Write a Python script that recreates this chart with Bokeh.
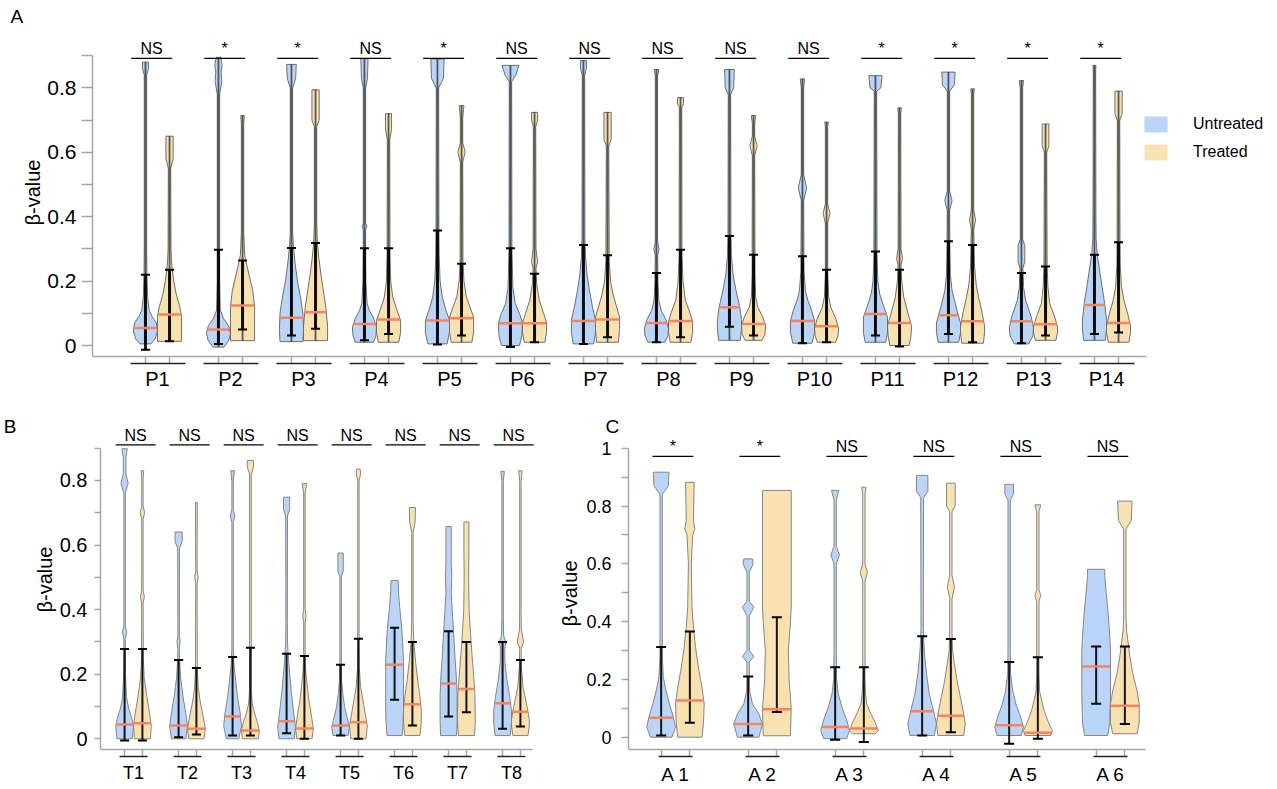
import numpy as np
from bokeh.plotting import figure
from bokeh.models import Range1d, LinearAxis, FixedTicker, Legend, LegendItem, Title
from bokeh.layouts import column, row
from bokeh.embed import file_html
from bokeh.resources import INLINE
from bokeh.core.properties import value

FONT = "Liberation Sans"
BLUE = "#bad5f7"
TAN = "#f8e2b2"
MEDIAN = "#f7845c"
AXIS = "#a8a8a8"

# ------------------------------------------------------------------ data
# Panel A
A_groups = ["P1", "P2", "P3", "P4", "P5", "P6", "P7", "P8", "P9", "P10", "P11", "P12", "P13", "P14"]
A_sig = ["NS", "*", "*", "NS", "*", "NS", "NS", "NS", "NS", "NS", "*", "*", "*", "*"]
A_u_med = [0.054, 0.05, 0.086, 0.067, 0.078, 0.069, 0.076, 0.07, 0.119, 0.076, 0.098, 0.094, 0.075, 0.126]
A_t_med = [0.096, 0.124, 0.103, 0.081, 0.085, 0.069, 0.081, 0.076, 0.067, 0.06, 0.07, 0.075, 0.066, 0.07]
A_u_lo = [-0.013, 0.005, 0.031, 0.016, 0.003, -0.005, 0.005, 0.01, 0.058, 0.007, 0.031, 0.036, 0.007, 0.036]
A_u_hi = [0.22, 0.297, 0.303, 0.302, 0.357, 0.302, 0.312, 0.225, 0.34, 0.277, 0.292, 0.324, 0.225, 0.282]
A_t_lo = [0.013, 0.05, 0.052, 0.036, 0.031, 0.01, 0.026, 0.026, 0.031, 0.01, -0.003, 0.01, 0.031, 0.04]
A_t_hi = [0.235, 0.264, 0.318, 0.302, 0.254, 0.223, 0.28, 0.297, 0.282, 0.235, 0.235, 0.312, 0.245, 0.321]
# violin outlines: (beta-value, relative half width)
A_u_shape = [
    [(0.005, 0.45), (0.02, 0.8), (0.045, 1.0), (0.07, 0.9), (0.09, 0.55), (0.11, 0.3), (0.15, 0.18), (0.22, 0.12), (0.3, 0.1), (0.84, 0.1), (0.86, 0.25), (0.88, 0.25)],
    [(-0.005, 0.45), (0.015, 0.85), (0.037, 1.0), (0.06, 0.85), (0.085, 0.4), (0.11, 0.15), (0.2, 0.1), (0.78, 0.1), (0.82, 0.28), (0.85, 0.22), (0.87, 0.3), (0.895, 0.2)],
    [(0.012, 0.95), (0.05, 1.0), (0.1, 0.95), (0.15, 0.75), (0.2, 0.5), (0.25, 0.32), (0.3, 0.18), (0.35, 0.1), (0.8, 0.1), (0.83, 0.35), (0.873, 0.4)],
    [(0.01, 0.75), (0.03, 0.95), (0.057, 1.0), (0.085, 0.75), (0.11, 0.4), (0.13, 0.22), (0.2, 0.12), (0.3, 0.1), (0.36, 0.1), (0.37, 0.2), (0.38, 0.1), (0.8, 0.1), (0.83, 0.25), (0.891, 0.3)],
    [(0.005, 0.8), (0.04, 1.0), (0.078, 1.0), (0.11, 0.7), (0.15, 0.4), (0.2, 0.22), (0.28, 0.14), (0.36, 0.12), (0.8, 0.1), (0.83, 0.5), (0.89, 0.55)],
    [(0.0, 0.75), (0.03, 0.95), (0.07, 1.0), (0.1, 0.75), (0.13, 0.4), (0.18, 0.2), (0.3, 0.12), (0.82, 0.1), (0.84, 0.45), (0.87, 0.7)],
    [(0.005, 0.85), (0.04, 1.0), (0.078, 1.0), (0.12, 0.75), (0.17, 0.5), (0.22, 0.3), (0.27, 0.18), (0.33, 0.12), (0.84, 0.1), (0.86, 0.25), (0.885, 0.25)],
    [(0.01, 0.7), (0.03, 0.95), (0.052, 1.0), (0.08, 0.8), (0.108, 0.4), (0.14, 0.2), (0.2, 0.12), (0.28, 0.1), (0.3, 0.22), (0.32, 0.1), (0.84, 0.1), (0.857, 0.2)],
    [(0.016, 0.9), (0.05, 1.0), (0.08, 1.0), (0.12, 0.85), (0.17, 0.55), (0.22, 0.3), (0.28, 0.16), (0.35, 0.12), (0.78, 0.1), (0.8, 0.35), (0.857, 0.4)],
    [(0.007, 0.8), (0.04, 1.0), (0.076, 1.0), (0.11, 0.75), (0.14, 0.45), (0.17, 0.25), (0.23, 0.13), (0.45, 0.1), (0.49, 0.35), (0.53, 0.1), (0.8, 0.1), (0.828, 0.18)],
    [(0.01, 0.85), (0.04, 1.0), (0.088, 1.0), (0.12, 0.7), (0.16, 0.35), (0.2, 0.2), (0.28, 0.13), (0.79, 0.1), (0.8, 0.45), (0.838, 0.55)],
    [(0.01, 0.85), (0.04, 1.0), (0.07, 1.0), (0.11, 0.7), (0.17, 0.3), (0.22, 0.16), (0.3, 0.12), (0.42, 0.1), (0.45, 0.3), (0.48, 0.1), (0.79, 0.1), (0.81, 0.5), (0.849, 0.55)],
    [(0.005, 0.6), (0.03, 0.95), (0.057, 1.0), (0.09, 0.8), (0.14, 0.35), (0.18, 0.18), (0.24, 0.12), (0.26, 0.28), (0.31, 0.28), (0.33, 0.1), (0.8, 0.1), (0.823, 0.18)],
    [(0.016, 0.9), (0.05, 1.0), (0.078, 1.0), (0.13, 0.85), (0.19, 0.6), (0.24, 0.4), (0.285, 0.22), (0.33, 0.14), (0.4, 0.12), (0.85, 0.1), (0.87, 0.12)],
]
A_t_shape = [
    [(0.013, 1.0), (0.09, 1.0), (0.12, 0.85), (0.16, 0.55), (0.2, 0.35), (0.25, 0.18), (0.3, 0.12), (0.55, 0.1), (0.58, 0.3), (0.65, 0.3)],
    [(0.015, 1.0), (0.12, 1.0), (0.17, 0.85), (0.21, 0.6), (0.25, 0.35), (0.28, 0.18), (0.35, 0.1), (0.69, 0.1), (0.714, 0.15)],
    [(0.015, 1.0), (0.06, 1.0), (0.12, 0.85), (0.17, 0.65), (0.22, 0.45), (0.27, 0.28), (0.32, 0.15), (0.38, 0.1), (0.68, 0.1), (0.7, 0.3), (0.794, 0.3)],
    [(0.01, 0.85), (0.04, 1.0), (0.078, 1.0), (0.11, 0.7), (0.15, 0.35), (0.2, 0.18), (0.28, 0.12), (0.64, 0.1), (0.67, 0.25), (0.72, 0.25)],
    [(0.01, 0.85), (0.04, 1.0), (0.088, 1.0), (0.12, 0.7), (0.15, 0.4), (0.2, 0.2), (0.26, 0.12), (0.57, 0.1), (0.6, 0.3), (0.63, 0.1), (0.71, 0.1), (0.745, 0.2)],
    [(0.01, 0.85), (0.04, 1.0), (0.07, 1.0), (0.1, 0.75), (0.14, 0.4), (0.19, 0.18), (0.24, 0.12), (0.26, 0.25), (0.3, 0.12), (0.68, 0.1), (0.7, 0.25), (0.724, 0.25)],
    [(0.01, 0.9), (0.05, 1.0), (0.088, 1.0), (0.12, 0.75), (0.16, 0.45), (0.2, 0.25), (0.26, 0.14), (0.62, 0.1), (0.64, 0.3), (0.724, 0.3)],
    [(0.01, 0.85), (0.04, 1.0), (0.075, 1.0), (0.11, 0.7), (0.14, 0.4), (0.2, 0.2), (0.28, 0.12), (0.74, 0.1), (0.75, 0.25), (0.77, 0.25)],
    [(0.016, 0.7), (0.035, 0.95), (0.062, 1.0), (0.09, 0.75), (0.119, 0.35), (0.15, 0.18), (0.22, 0.12), (0.59, 0.1), (0.62, 0.3), (0.65, 0.1), (0.69, 0.1), (0.714, 0.18)],
    [(0.01, 0.75), (0.03, 0.95), (0.052, 1.0), (0.08, 0.8), (0.119, 0.35), (0.15, 0.18), (0.22, 0.1), (0.38, 0.1), (0.41, 0.28), (0.44, 0.1), (0.68, 0.1), (0.694, 0.15)],
    [(0.0, 0.8), (0.03, 0.95), (0.06, 1.0), (0.1, 0.7), (0.15, 0.35), (0.2, 0.18), (0.25, 0.12), (0.27, 0.25), (0.3, 0.12), (0.72, 0.1), (0.738, 0.15)],
    [(0.007, 0.9), (0.04, 1.0), (0.06, 1.0), (0.1, 0.8), (0.15, 0.5), (0.19, 0.3), (0.25, 0.16), (0.33, 0.12), (0.36, 0.1), (0.39, 0.25), (0.42, 0.1), (0.78, 0.1), (0.797, 0.15)],
    [(0.016, 0.85), (0.04, 1.0), (0.057, 1.0), (0.09, 0.75), (0.13, 0.35), (0.18, 0.2), (0.25, 0.13), (0.6, 0.1), (0.62, 0.28), (0.688, 0.28)],
    [(0.01, 0.85), (0.04, 1.0), (0.06, 1.0), (0.1, 0.75), (0.14, 0.45), (0.18, 0.25), (0.25, 0.14), (0.32, 0.12), (0.7, 0.1), (0.72, 0.3), (0.79, 0.3)],
]

# Panel B
B_groups = ["T1", "T2", "T3", "T4", "T5", "T6", "T7", "T8"]
B_sig = ["NS"] * 8
B_u_med = [0.044, 0.041, 0.069, 0.054, 0.041, 0.229, 0.171, 0.11]
B_t_med = [0.048, 0.031, 0.026, 0.032, 0.051, 0.107, 0.154, 0.084]
B_u_lo = [-0.005, 0.005, 0.01, 0.017, 0.01, 0.121, 0.069, 0.031]
B_u_hi = [0.278, 0.244, 0.253, 0.263, 0.229, 0.344, 0.333, 0.3]
B_t_lo = [-0.005, 0.013, 0.01, 0.0, 0.0, 0.041, 0.082, 0.038]
B_t_hi = [0.278, 0.219, 0.282, 0.256, 0.31, 0.3, 0.3, 0.244]
B_u_shape = [
    [(0.0, 0.85), (0.036, 1.0), (0.06, 0.85), (0.09, 0.5), (0.128, 0.22), (0.2, 0.1), (0.31, 0.08), (0.33, 0.25), (0.35, 0.08), (0.76, 0.08), (0.79, 0.4), (0.82, 0.15), (0.87, 0.15), (0.898, 0.3)],
    [(0.0, 0.8), (0.041, 1.0), (0.08, 0.8), (0.13, 0.5), (0.19, 0.22), (0.25, 0.1), (0.28, 0.08), (0.3, 0.18), (0.32, 0.08), (0.59, 0.1), (0.61, 0.4), (0.64, 0.4)],
    [(0.0, 0.7), (0.04, 1.0), (0.08, 0.85), (0.13, 0.55), (0.18, 0.35), (0.23, 0.15), (0.28, 0.08), (0.67, 0.08), (0.69, 0.25), (0.71, 0.08), (0.8, 0.08), (0.83, 0.2)],
    [(0.0, 0.85), (0.036, 1.0), (0.08, 0.8), (0.14, 0.55), (0.2, 0.35), (0.26, 0.18), (0.3, 0.1), (0.36, 0.08), (0.69, 0.1), (0.71, 0.35), (0.748, 0.35)],
    [(0.01, 0.85), (0.036, 1.0), (0.07, 0.7), (0.1, 0.45), (0.14, 0.25), (0.18, 0.12), (0.24, 0.08), (0.5, 0.08), (0.52, 0.3), (0.575, 0.3)],
    [(0.01, 0.85), (0.05, 0.95), (0.09, 1.0), (0.24, 1.0), (0.3, 0.9), (0.345, 0.8), (0.4, 0.6), (0.45, 0.45), (0.49, 0.4)],
    [(0.01, 0.9), (0.05, 0.95), (0.14, 0.95), (0.2, 0.85), (0.26, 0.7), (0.335, 0.55), (0.4, 0.4), (0.45, 0.3), (0.5, 0.35), (0.55, 0.3), (0.657, 0.3)],
    [(0.01, 0.85), (0.05, 1.0), (0.087, 1.0), (0.13, 0.8), (0.18, 0.5), (0.24, 0.25), (0.28, 0.25), (0.3, 0.35), (0.32, 0.12), (0.38, 0.08), (0.8, 0.08), (0.828, 0.2)],
]
B_t_shape = [
    [(0.0, 0.9), (0.04, 1.0), (0.08, 0.8), (0.13, 0.5), (0.19, 0.2), (0.25, 0.1), (0.42, 0.08), (0.44, 0.22), (0.46, 0.08), (0.68, 0.08), (0.7, 0.25), (0.72, 0.08), (0.81, 0.08), (0.83, 0.15)],
    [(0.0, 0.85), (0.031, 1.0), (0.07, 0.75), (0.12, 0.4), (0.16, 0.2), (0.22, 0.1), (0.48, 0.08), (0.5, 0.2), (0.52, 0.08), (0.732, 0.1)],
    [(0.0, 0.9), (0.026, 1.0), (0.05, 0.8), (0.08, 0.45), (0.108, 0.2), (0.15, 0.1), (0.82, 0.1), (0.84, 0.35), (0.862, 0.35)],
    [(0.0, 0.85), (0.03, 1.0), (0.07, 0.8), (0.12, 0.5), (0.17, 0.3), (0.21, 0.15), (0.26, 0.08), (0.36, 0.08), (0.38, 0.18), (0.4, 0.08), (0.76, 0.08), (0.79, 0.25)],
    [(0.0, 0.85), (0.04, 1.0), (0.08, 0.75), (0.12, 0.5), (0.16, 0.25), (0.22, 0.1), (0.3, 0.08), (0.8, 0.08), (0.82, 0.25), (0.835, 0.2)],
    [(0.01, 0.85), (0.05, 1.0), (0.087, 1.0), (0.13, 0.85), (0.18, 0.6), (0.24, 0.35), (0.3, 0.15), (0.36, 0.08), (0.64, 0.08), (0.67, 0.3), (0.716, 0.35)],
    [(0.01, 0.9), (0.05, 1.0), (0.14, 0.95), (0.2, 0.8), (0.27, 0.6), (0.33, 0.45), (0.4, 0.3), (0.5, 0.25), (0.58, 0.28), (0.671, 0.28)],
    [(0.01, 0.85), (0.04, 1.0), (0.06, 1.0), (0.1, 0.75), (0.16, 0.3), (0.22, 0.12), (0.28, 0.08), (0.3, 0.35), (0.34, 0.1), (0.4, 0.08), (0.8, 0.08), (0.83, 0.2)],
]

# Panel C
C_groups = ["A 1", "A 2", "A 3", "A 4", "A 5", "A 6"]
C_sig = ["*", "*", "NS", "NS", "NS", "NS"]
C_u_med = [0.067, 0.046, 0.035, 0.09, 0.041, 0.245]
C_t_med = [0.127, 0.097, 0.03, 0.074, 0.015, 0.109]
C_u_lo = [0.006, 0.006, -0.009, 0.006, -0.023, 0.116]
C_u_hi = [0.312, 0.21, 0.242, 0.349, 0.26, 0.314]
C_t_lo = [0.05, 0.087, -0.017, 0.017, -0.005, 0.046]
C_t_hi = [0.366, 0.415, 0.242, 0.34, 0.277, 0.314]
C_u_shape = [
    [(0.0, 0.75), (0.035, 1.0), (0.07, 0.85), (0.12, 0.55), (0.17, 0.3), (0.21, 0.15), (0.28, 0.08), (0.84, 0.08), (0.87, 0.5), (0.917, 0.55)],
    [(0.0, 0.75), (0.046, 1.0), (0.08, 0.75), (0.115, 0.3), (0.16, 0.1), (0.26, 0.08), (0.28, 0.4), (0.3, 0.08), (0.42, 0.08), (0.45, 0.4), (0.47, 0.08), (0.57, 0.08), (0.6, 0.35), (0.617, 0.3)],
    [(-0.005, 0.8), (0.023, 1.0), (0.06, 0.8), (0.1, 0.5), (0.15, 0.22), (0.2, 0.1), (0.3, 0.08), (0.6, 0.08), (0.63, 0.3), (0.66, 0.08), (0.82, 0.08), (0.854, 0.25)],
    [(0.006, 0.85), (0.046, 1.0), (0.09, 0.8), (0.15, 0.5), (0.22, 0.3), (0.28, 0.18), (0.323, 0.12), (0.38, 0.08), (0.83, 0.1), (0.85, 0.4), (0.906, 0.4)],
    [(0.006, 0.85), (0.035, 1.0), (0.07, 0.8), (0.11, 0.5), (0.161, 0.25), (0.22, 0.1), (0.3, 0.08), (0.82, 0.08), (0.84, 0.3), (0.875, 0.3)],
    [(0.006, 0.8), (0.05, 0.95), (0.15, 1.0), (0.3, 1.0), (0.35, 0.95), (0.42, 0.85), (0.5, 0.7), (0.56, 0.6), (0.581, 0.6)],
]
C_t_shape = [
    [(0.0, 0.85), (0.05, 0.95), (0.115, 1.0), (0.17, 0.85), (0.24, 0.6), (0.31, 0.4), (0.38, 0.25), (0.45, 0.15), (0.6, 0.1), (0.7, 0.2), (0.72, 0.35), (0.75, 0.25), (0.882, 0.3)],
    [(0.005, 0.95), (0.1, 1.0), (0.2, 0.85), (0.3, 0.8), (0.4, 0.95), (0.45, 1.0), (0.854, 1.0)],
    [(0.012, 0.8), (0.023, 1.0), (0.05, 0.8), (0.08, 0.5), (0.115, 0.2), (0.15, 0.12), (0.2, 0.08), (0.54, 0.08), (0.57, 0.25), (0.6, 0.08), (0.84, 0.08), (0.865, 0.15)],
    [(0.006, 0.9), (0.046, 1.0), (0.08, 0.9), (0.13, 0.7), (0.19, 0.45), (0.254, 0.25), (0.3, 0.12), (0.36, 0.08), (0.48, 0.08), (0.52, 0.25), (0.56, 0.08), (0.78, 0.08), (0.8, 0.3), (0.879, 0.3)],
    [(0.006, 0.9), (0.023, 1.0), (0.05, 0.75), (0.09, 0.45), (0.13, 0.25), (0.16, 0.12), (0.22, 0.08), (0.47, 0.08), (0.49, 0.2), (0.51, 0.08), (0.78, 0.08), (0.804, 0.2)],
    [(0.012, 0.85), (0.05, 1.0), (0.115, 1.0), (0.16, 0.85), (0.22, 0.55), (0.28, 0.35), (0.33, 0.22), (0.37, 0.12), (0.42, 0.08), (0.72, 0.08), (0.75, 0.45), (0.817, 0.5)],
]

HW = 0.165    # max half width of a violin (x units)
OFF = 0.165   # offset of each violin from the group centre


def make_panel(groups, sig, u_shape, t_shape, u_med, t_med, u_lo, u_hi, t_lo, t_hi, g):
    n = len(groups)
    pxu = g["pxu"]
    fw = g["width"] - g["left"]
    x0 = 1 - g["c0"] / pxu
    x1 = x0 + fw / pxu
    xaxis_end = x0 + g["axis_len"] / pxu
    ft = g["top"]
    fb = g["height"] - g["bottom"]
    y1 = (g["zero"] - ft) / g["ppu"]
    y0 = (g["zero"] - fb) / g["ppu"]

    p = figure(width=g["width"], height=g["height"], x_range=Range1d(x0, x1), y_range=Range1d(y0, y1),
               x_axis_type=None, y_axis_type=None, toolbar_location=None, output_backend="svg",
               min_border_left=g["left"], min_border_right=0, min_border_top=ft,
               min_border_bottom=g["bottom"])
    p.outline_line_color = None
    p.background_fill_color = "white"

    sets = [(u_shape, u_med, u_lo, u_hi, -1, BLUE), (t_shape, t_med, t_lo, t_hi, 1, TAN)]

    # violin bodies: fill and outline
    xs, ys, fills = [], [], []
    for shapes, med, lo, hi, sgn, col in sets:
        for i, sh in enumerate(shapes):
            c = i + 1 + sgn * OFF
            yy = np.array([k[0] for k in sh])
            ww = np.array([k[1] for k in sh]) * HW
            xs.append(list(c - ww) + list((c + ww)[::-1]))
            ys.append(list(yy) + list(yy[::-1]))
            fills.append(col)
    fill_r = p.patches(xs, ys, fill_color=fills, line_color=None)
    p.multi_line([x + [x[0]] for x in xs], [y + [y[0]] for y in ys],
                 line_color=g["outline"], line_width=1)

    for shapes, med, lo, hi, sgn, col in sets:
        cx = [i + 1 + sgn * OFF for i in range(n)]
        if g.get("stem"):
            bots = [sh[0][0] for sh in shapes]
            tops = [sh[-1][0] for sh in shapes]
            p.segment(cx, bots, cx, tops, line_color="#2a2a2a", line_width=1.8, line_alpha=0.75)
        p.segment(cx, lo, cx, hi, line_color="black", line_width=g["wlw"], line_alpha=0.9)
        p.scatter(cx + cx, list(lo) + list(hi), marker="dash", size=g["cap"],
                  line_color="black", line_width=2)
        mw = [float(np.interp(m, [k[0] for k in sh], [k[1] for k in sh])) * HW
              for m, sh in zip(med, shapes)]
        p.segment([c - w for c, w in zip(cx, mw)], med, [c + w for c, w in zip(cx, mw)], med,
                  line_color=MEDIAN, line_width=2.5)

    # significance bars
    centers = list(range(1, n + 1))
    sc = [c + g["sig_off"] for c in centers]
    sy = [g["sig_y"]] * n
    p.segment([c - g["sig_len"] / 2 for c in sc], sy, [c + g["sig_len"] / 2 for c in sc], sy,
              line_color="black", line_width=1.3)
    p.text(sc, sy, text=sig, text_align="center", text_baseline="bottom", y_offset=-1,
           text_font=value(FONT), text_font_size=g["sig_fs"], text_color="black")

    # y axis
    yax = LinearAxis(ticker=FixedTicker(ticks=g["yt"], minor_ticks=g["ym"]), bounds=(y0, g["ytop"]),
                     major_label_overrides=g["yover"], axis_label="β-value",
                     axis_label_text_font=FONT, axis_label_text_font_style="normal",
                     axis_label_text_color="black",
                     axis_label_text_font_size=g["alab_fs"], axis_label_standoff=g["alab_st"],
                     major_label_text_font=FONT, major_label_text_font_size=g["ytick_fs"],
                     major_label_text_color="black", major_label_standoff=g["ytick_st"],
                     axis_line_color=AXIS, axis_line_width=1.5,
                     major_tick_line_color=AXIS, major_tick_line_width=1.5,
                     minor_tick_line_color=AXIS, minor_tick_line_width=1.5,
                     major_tick_out=g["ytick_len"], major_tick_in=0,
                     minor_tick_out=g["ytick_len"], minor_tick_in=0)
    p.add_layout(yax, "left")

    # panel letter
    if g.get("letter_axis"):
        lv = g["letter_y"]
        lax = LinearAxis(ticker=FixedTicker(ticks=[lv], minor_ticks=[]),
                         major_label_overrides={lv: g["lab"]}, axis_line_color=None,
                         major_tick_line_color=None, minor_tick_line_color=None,
                         major_tick_out=0, major_tick_in=0, major_label_standoff=g["letter_st"],
                         major_label_text_font=FONT, major_label_text_font_size="19px",
                         major_label_text_color="black")
        p.add_layout(lax, "left")
    else:
        p.add_layout(Title(text=g["lab"], align="left", offset=g["lab_off"], standoff=g["lab_st"],
                           text_font=FONT, text_font_size="19px", text_font_style="normal",
                           text_color="black", vertical_align="bottom"), "above")

    # x axis with a tick under every violin
    vpos = sorted([c - OFF for c in centers] + [c + OFF for c in centers])
    tax = LinearAxis(ticker=FixedTicker(ticks=vpos, minor_ticks=[]), bounds=(x0, xaxis_end),
                     major_tick_out=7, major_tick_in=0, major_label_text_font_size="5px",
                     major_label_text_alpha=0, major_label_standoff=3,
                     axis_line_color=AXIS, axis_line_width=1.5,
                     major_tick_line_color=AXIS, major_tick_line_width=1.5)
    p.add_layout(tax, "below")

    # group names with their underline
    ul = g["ul"]
    gax = LinearAxis(ticker=FixedTicker(ticks=centers, minor_ticks=[]),
                     bounds=(1 - ul / 2 / pxu, n + ul / 2 / pxu),
                     axis_line_dash=f"{ul} {pxu - ul}", axis_line_color="#222222", axis_line_width=1.3,
                     major_tick_line_color=None, major_tick_out=0, major_tick_in=0,
                     major_label_overrides={c: nm for c, nm in zip(centers, groups)},
                     major_label_text_font=FONT, major_label_text_font_size=g["grp_fs"],
                     major_label_standoff=g["gst"], major_label_text_color="black")
    p.add_layout(gax, "below")
    return p, fill_r


figA, fillA = make_panel(A_groups, A_sig, A_u_shape, A_t_shape, A_u_med, A_t_med, A_u_lo, A_u_hi, A_t_lo, A_t_hi,
                         dict(width=1277, height=395, left=92, top=28, bottom=39, pxu=73, c0=65, axis_len=1054,
                              zero=345, ppu=322, ytop=0.9, yt=[0, 0.2, 0.4, 0.6, 0.8], ym=[0.1, 0.3, 0.5, 0.7, 0.9],
                              yover={0: "0"}, ul=55, sig_y=0.892, sig_len=0.56, sig_off=-0.08, sig_fs="16px",
                              alab_fs="20px", alab_st=0, ytick_fs="21px", ytick_st=5, ytick_len=11,
                              grp_fs="20px", gst=4, wlw=3, cap=9, stem=True, outline="#6e6e6e",
                              lab="A", lab_off=-82, lab_st=3))

legA = Legend(items=[LegendItem(label="Untreated", renderers=[fillA], index=0),
                     LegendItem(label="Treated", renderers=[fillA], index=len(A_groups))],
              location=(1049, 194), border_line_color=None, background_fill_alpha=0, padding=0, margin=0,
              spacing=8, glyph_width=29, glyph_height=20, label_height=20, label_standoff=23,
              label_text_font=FONT, label_text_font_size="16px", label_text_color="black")
figA.add_layout(legA)

figB, _ = make_panel(B_groups, B_sig, B_u_shape, B_t_shape, B_u_med, B_t_med, B_u_lo, B_u_hi, B_t_lo, B_t_hi,
                     dict(width=548, height=394, left=100, top=14, bottom=40, pxu=54, c0=33, axis_len=432,
                          zero=343.3, ppu=323, ytop=0.9, yt=[0, 0.2, 0.4, 0.6, 0.8], ym=[0.1, 0.3, 0.5, 0.7, 0.9],
                          yover={0: "0"}, ul=28, sig_y=0.91, sig_len=0.74, sig_off=0.04, sig_fs="16px",
                          alab_fs="20px", alab_st=1, ytick_fs="20px", ytick_st=7, ytick_len=6,
                          grp_fs="18px", gst=6, wlw=2, cap=9, outline="#858585",
                          lab="B", letter_axis=True, letter_y=0.967, letter_st=14))

figC, _ = make_panel(C_groups, C_sig, C_u_shape, C_t_shape, C_u_med, C_t_med, C_u_lo, C_u_hi, C_t_lo, C_t_hi,
                     dict(width=729, height=394, left=80, top=42, bottom=40, pxu=87, c0=47, axis_len=517,
                          zero=341.7, ppu=289, ytop=1.0, yt=[0, 0.2, 0.4, 0.6, 0.8, 1.0],
                          ym=[0.1, 0.3, 0.5, 0.7, 0.9], yover={0: "0", 1: "1"}, ul=34, sig_y=0.972,
                          sig_len=0.47, sig_off=-0.03, sig_fs="16px",
                          alab_fs="20px", alab_st=2, ytick_fs="18px", ytick_st=10, ytick_len=7,
                          grp_fs="19px", gst=7, wlw=2, cap=10, outline="#858585",
                          lab="C", lab_off=-23, lab_st=2))

# each panel in its own column so that the frames of B and C are not aligned to each other
layout = column(figA, row(column(figB), column(figC)))
open("out.html", "w").write(file_html(layout, INLINE))
